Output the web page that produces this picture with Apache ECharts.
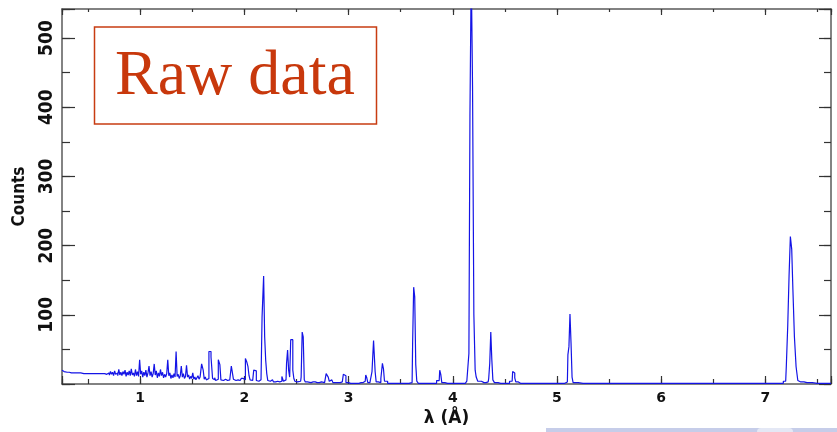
<!DOCTYPE html>
<html>
<head>
<meta charset="utf-8">
<script src="https://cdn.jsdelivr.net/npm/echarts@6/dist/echarts.min.js"></script>
<style>
html,body{margin:0;padding:0;background:#fff;}
#c{width:837px;height:432px;}
</style>
</head>
<body>
<div id="c"></div>
<script>
// wavelength (Å)
var lambda = [
0.25,0.27,0.30,0.34,0.40,0.46,0.52,0.58,0.64,0.68,
0.70,0.71,0.72,0.73,0.74,0.75,0.76,0.77,0.78,0.79,
0.80,0.81,0.82,0.83,0.84,0.85,0.86,0.87,0.88,0.89,
0.90,0.91,0.92,0.93,0.94,0.95,0.96,0.97,0.98,0.99,
1.00,1.01,1.02,1.03,1.04,1.05,1.06,1.07,1.08,1.09,
1.10,1.11,1.12,1.13,1.14,1.15,1.16,1.17,1.18,1.19,
1.20,1.21,1.22,1.23,1.24,1.25,1.26,1.27,1.28,1.29,
1.30,1.31,1.32,1.33,1.34,1.35,1.36,1.37,1.38,1.39,
1.40,1.41,1.42,1.43,1.44,1.45,1.46,1.47,1.48,1.49,
1.50,1.51,1.52,1.53,1.54,1.55,1.56,1.57,1.58,1.60,
1.61,1.62,1.63,1.64,1.65,1.67,1.69,1.70,1.71,1.72,
1.73,1.74,1.76,1.77,1.78,1.80,1.82,1.84,1.86,1.89,
1.90,1.92,1.94,1.96,1.98,2.00,2.02,2.03,2.04,2.05,
2.06,2.08,2.10,2.11,2.12,2.14,2.16,2.18,2.19,2.20,
2.21,2.22,2.23,2.25,2.27,2.29,2.31,2.33,2.35,2.37,
2.38,2.40,2.41,2.42,2.43,2.44,2.45,2.46,2.47,2.48,
2.49,2.51,2.54,2.55,2.56,2.57,2.58,2.59,2.62,2.66,
2.70,2.74,2.77,2.80,2.81,2.82,2.84,2.86,2.90,2.94,
2.96,2.97,2.98,3.02,3.08,3.12,3.16,3.17,3.18,3.19,
3.22,3.23,3.25,3.26,3.27,3.30,3.32,3.33,3.34,3.35,
3.40,3.46,3.52,3.58,3.61,3.62,3.63,3.64,3.65,3.66,
3.68,3.75,3.82,3.87,3.88,3.89,3.90,3.95,4.05,4.12,
4.15,4.16,4.17,4.185,4.195,4.21,4.22,4.23,4.25,4.30,
4.34,4.35,4.36,4.37,4.38,4.39,4.41,4.46,4.52,4.57,
4.58,4.59,4.60,4.61,4.65,4.75,4.85,4.95,5.05,5.10,
5.11,5.12,5.13,5.14,5.15,5.16,5.25,5.40,5.60,5.80,
6.00,6.20,6.40,6.60,6.80,7.00,7.15,7.195,7.207,7.223,
7.232,7.248,7.258,7.271,7.287,7.303,7.32,7.34,7.40,7.50,
7.63
];
// counts
var counts = [
20,18,17,16,16,15,15,15,15,14,
16,13,18,14,17,12,19,14,16,12,
21,13,17,12,18,14,20,11,17,13,
19,12,22,13,16,11,21,12,18,11,
35,14,19,10,17,12,20,10,16,26,
12,18,10,15,29,13,19,9,16,11,
21,12,17,9,14,10,15,35,12,16,
8,13,9,15,10,47,11,14,8,12,
26,10,15,8,11,27,10,13,7,11,
8,16,7,10,6,9,12,7,10,29,
20,7,10,6,8,47,39,8,6,9,
5,7,35,28,6,5,7,5,6,26,
7,5,6,5,8,6,37,31,25,12,
6,5,20,19,5,4,6,97,156,68,
34,15,5,4,6,3,4,3,4,11,
4,6,30,49,20,10,64,64,20,8,
4,3,4,10,75,68,6,3,2,3,
2,3,2,15,10,4,6,2,2,3,
14,12,2,1,1,2,4,13,9,2,
3,18,63,18,3,2,8,30,22,4,
1,1,1,1,2,60,140,126,28,4,
1,1,1,5,20,14,2,1,1,1,
4,44,387,600,428,101,20,10,4,2,
3,8,30,75,35,6,2,1,1,4,
18,16,9,3,1,1,1,1,1,3,
42,54,101,60,10,2,1,1,1,1,
1,1,1,1,1,1,1,4,25,85,
156,213,195,136,68,25,5,3,2,1,
1
];
var xTicksMajor = [1,2,3,4,5,6,7];
var yTicksMajor = [100,200,300,400,500];

var data = lambda.map(function(v,i){return [v, counts[i]];});

var chart = echarts.init(document.getElementById('c'), null, {renderer:'canvas'});
var axisColor = '#5a5a5a';
var xMin = 0.25, xMax = 7.63, yMin = 0, yMax = 542;

function xAxisDef(pos, split, len, showLine, labels){
  return {
    type:'value', gridIndex:0, position:pos, min:xMin, max:xMax, splitNumber:split,
    axisLine:{show:showLine, onZero:false, lineStyle:{color:axisColor, width:1.5}},
    axisTick:{show:true, inside:true, length:len, lineStyle:{color:'#333', width:1.2}},
    axisLabel:{show:labels, margin:7, color:'#111', fontFamily:'DejaVu Sans', fontWeight:'bold', fontSize:14,
      formatter:function(v){return xTicksMajor.indexOf(Math.round(v*1000)/1000)>=0 ? String(v) : '';}},
    splitLine:{show:false}
  };
}
function yAxisDef(pos, interval, len, showLine, labels){
  return {
    type:'value', gridIndex:0, position:pos, min:yMin, max:yMax, interval:interval,
    axisLine:{show:showLine, onZero:false, lineStyle:{color:axisColor, width:1.5}},
    axisTick:{show:true, inside:true, length:len, lineStyle:{color:'#333', width:1.2}},
    axisLabel:{show:labels, rotate:90, margin:5, color:'#111', fontFamily:'Liberation Sans Narrow, DejaVu Sans Condensed, sans-serif', fontWeight:'bold', fontSize:19,
      formatter:function(v){return yTicksMajor.indexOf(v)>=0 ? String(v) : '';}},
    splitLine:{show:false}
  };
}

var xb = xAxisDef('bottom', 7, 8, true, true);
xb.name = 'λ (Å)';
xb.nameLocation = 'middle';
xb.nameGap = 22;
xb.nameTextStyle = {color:'#111', fontFamily:'DejaVu Sans', fontWeight:'bold', fontSize:17};
var yl = yAxisDef('left', 100, 13, true, true);
yl.name = 'Counts';
yl.nameLocation = 'middle';
yl.nameRotate = 90;
yl.nameGap = 34;
yl.nameTextStyle = {color:'#111', fontFamily:'Liberation Sans Narrow, DejaVu Sans Condensed, sans-serif', fontWeight:'bold', fontSize:17};

var option = {
  animation:false,
  backgroundColor:'#ffffff',
  grid:{left:62, right:6, top:9, bottom:48, containLabel:false},
  xAxis:[
    xb,
    xAxisDef('bottom', 14, 5, false, false),
    xAxisDef('top', 7, 6, true, false),
    xAxisDef('top', 14, 3, false, false)
  ],
  yAxis:[
    yl,
    yAxisDef('left', 50, 8, false, false),
    yAxisDef('right', 100, 12, true, false),
    yAxisDef('right', 50, 7, false, false)
  ],
  series:[{
    type:'line', xAxisIndex:0, yAxisIndex:0, data:data, step:'middle',
    symbol:'none', clip:true,
    lineStyle:{color:'#1414e6', width:1.2}
  }],
  graphic:[
    {type:'rect', shape:{x:94.5, y:27, width:282, height:97},
     style:{fill:'#ffffff', stroke:'#c83c12', lineWidth:1.5}, z:100},
    {type:'text', x:115, y:77.5,
     style:{text:'Raw data', fill:'#c8380c', font:'64px "Liberation Serif", "Times New Roman", serif', textAlign:'left', textVerticalAlign:'middle'}, z:101},
    {type:'rect', shape:{x:546, y:428, width:291, height:4},
     style:{fill:'#c6cde9'}, z:100},
    {type:'rect', shape:{x:757, y:428, width:36, height:4, r:[6,6,0,0]},
     style:{fill:'#e4e8f5'}, z:101}
  ]
};
chart.setOption(option);
</script>
</body>
</html>
